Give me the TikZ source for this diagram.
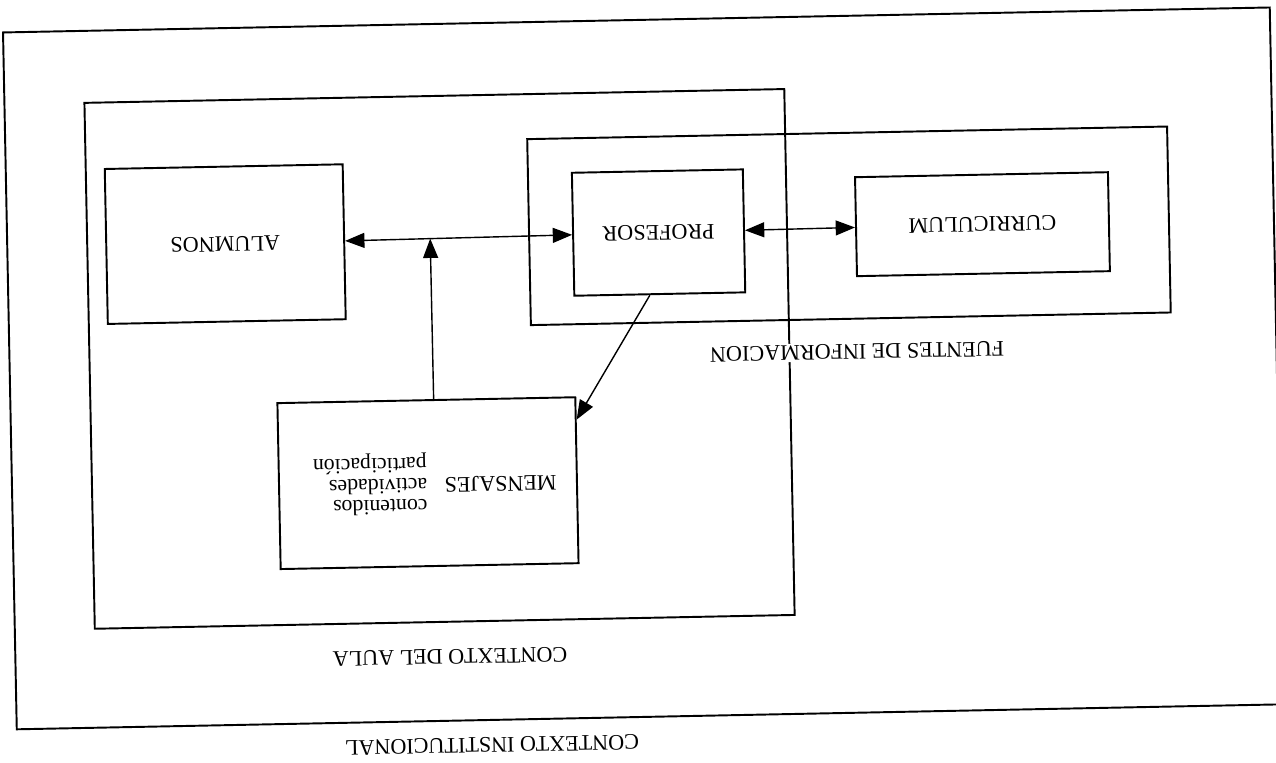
\documentclass[tikz,border=0pt]{standalone}
\usepackage{fontspec}
\setmainfont{Liberation Serif}
\usepackage{graphicx}
\usetikzlibrary{arrows.meta}

\newcommand{\upsd}[1]{\rotatebox{180}{#1}}

\begin{document}
\begin{tikzpicture}[x=0.02cm, y=-0.02cm,
    every node/.style={font=\fontsize{12.6}{15}\selectfont},
    box/.style={draw, line width=1.1pt, inner sep=0pt},
    frame/.style={line width=1.1pt},
    link/.style={line width=0.8pt, {Triangle[length=11pt,width=8.5pt]}-{Triangle[length=11pt,width=8.5pt]}},
    onelink/.style={line width=0.8pt, -{Triangle[length=11pt,width=8.5pt]}}]
  \useasboundingbox (0,0) rectangle (1276,763);
  \clip (0,0) rectangle (1276,763);
  \begin{scope}[rotate around={1.13:(638,381)}, transform shape]
    % contexts
    \draw[frame] (10,20) rectangle (1277,717);
    \draw[frame] (90,92) rectangle (790,618);
    \draw[frame] (532,137) rectangle (1172,323);

    % boxes
    \node[box, minimum width=4.76cm, minimum height=3.1cm] (alumnos) at (228,236) {\upsd{ALUMNOS}};
    \node[box, minimum width=3.42cm, minimum height=2.46cm] (profesor) at (661.5,233) {\upsd{PROFESOR}};
    \node[box, minimum width=5.06cm, minimum height=1.98cm] (curriculum) at (985.5,231) {\upsd{CURRICULUM}};
    \node[box, minimum width=5.96cm, minimum height=3.32cm] (mensajes) at (426,479)
      {\upsd{MENSAJES\hspace{10pt}{\fontsize{12.4}{10.8}\selectfont\begin{tabular}[c]{@{}l@{}}contenidos\\actividades\\participación\end{tabular}}\hspace{8pt}}};

    % labels
    \node[fill=white, inner sep=1pt] (fuentes) at (857.6,356) {\upsd{FUENTES DE INFORMACION}};
    \node (aula) at (444.6,653) {\upsd{CONTEXTO DEL AULA}};
    \node (instit) at (484.8,742) {\upsd{CONTEXTO INSTITUCIONAL}};

    % arrows
    \draw[link] (alumnos) -- coordinate[pos=0.375] (junction) (profesor);
    \draw[link] (profesor) -- (curriculum);
    \draw[onelink] (mensajes.85) -- (junction);
    \draw[onelink] (profesor.261) -- (mensajes.22);
  \end{scope}
\end{tikzpicture}
\end{document}
